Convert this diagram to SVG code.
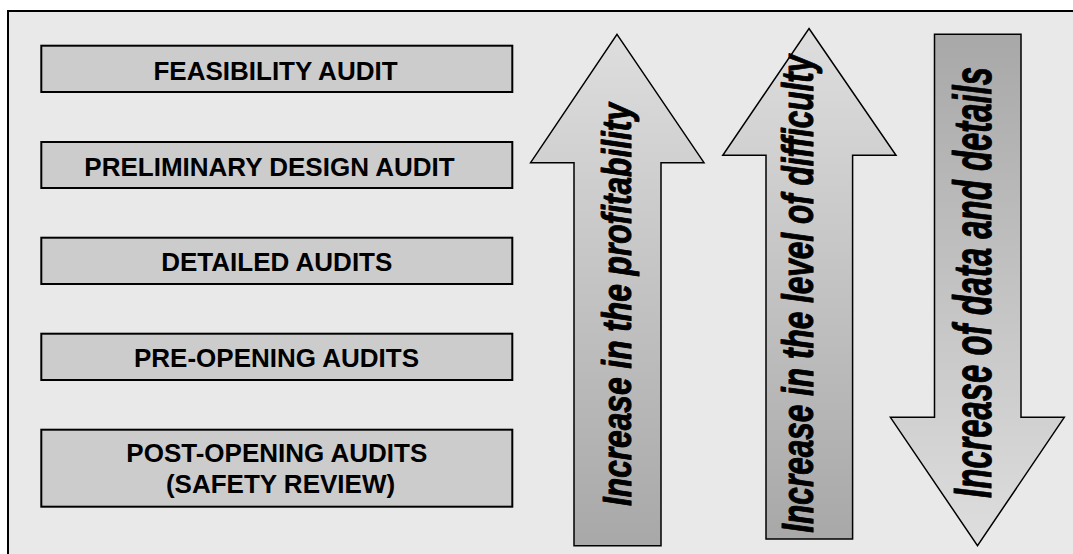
<svg xmlns="http://www.w3.org/2000/svg" width="1073" height="554" viewBox="0 0 1073 554">
  <style>
    .frame { fill: #e9e9e9; stroke: #000; stroke-width: 2; }
    .stage { fill: #cccccc; stroke: #000; stroke-width: 2; }
    .stage-label { font-family: "Liberation Sans", Arial, sans-serif; font-weight: bold; font-size: 26px; fill: #000; text-anchor: middle; }
    .arrow { stroke: #000; stroke-width: 1.5; stroke-linejoin: miter; }
    .arrow-label { font-family: "Liberation Sans", Arial, sans-serif; font-weight: bold; font-style: italic; fill: #000; stroke: #000; stroke-width: 1; stroke-linejoin: round; }
  </style>
  <defs>
    <linearGradient id="shadeUp" x1="0" y1="0" x2="0" y2="1">
      <stop offset="0" stop-color="#dedede"/>
      <stop offset="1" stop-color="#a8a8a8"/>
    </linearGradient>
    <linearGradient id="shadeDown" x1="0" y1="0" x2="0" y2="1">
      <stop offset="0" stop-color="#a8a8a8"/>
      <stop offset="1" stop-color="#dedede"/>
    </linearGradient>
  </defs>

  <rect width="1073" height="554" fill="#ffffff"/>
  <rect class="frame" x="8" y="11" width="1080" height="560"/>

  <!-- audit stages, top to bottom -->
  <g id="feasibility-audit">
    <rect class="stage" x="41.3" y="45.7" width="471" height="46.3"/>
    <text class="stage-label" x="275.5" y="80">FEASIBILITY AUDIT</text>
  </g>
  <g id="preliminary-design-audit">
    <rect class="stage" x="41.3" y="142" width="471" height="46"/>
    <text class="stage-label" x="269.5" y="176">PRELIMINARY DESIGN AUDIT</text>
  </g>
  <g id="detailed-audits">
    <rect class="stage" x="41.3" y="237.7" width="471" height="46.3"/>
    <text class="stage-label" x="276.8" y="270.7">DETAILED AUDITS</text>
  </g>
  <g id="pre-opening-audits">
    <rect class="stage" x="41.3" y="333.7" width="471" height="46.3"/>
    <text class="stage-label" x="276.5" y="366.7">PRE-OPENING AUDITS</text>
  </g>
  <g id="post-opening-audits">
    <rect class="stage" x="41.3" y="429.7" width="471" height="77"/>
    <text class="stage-label" x="276.8" y="461.7">POST-OPENING AUDITS</text>
    <text class="stage-label" x="280.5" y="493.3">(SAFETY REVIEW)</text>
  </g>

  <!-- trend arrows -->
  <g id="connectors">
    <g id="arrow-profitability">
      <polygon class="arrow" fill="url(#shadeUp)" points="617,34.3 704,162.7 661,162.7 661,545.7 574,545.7 574,162.7 530.6,162.7"/>
      <text class="arrow-label" font-size="40" transform="translate(631,506) rotate(-90)" textLength="403" lengthAdjust="spacingAndGlyphs">Increase in the profitability</text>
    </g>
    <g id="arrow-difficulty">
      <polygon class="arrow" fill="url(#shadeUp)" points="809,28.5 896,155.3 852.6,155.3 852.6,539 766,539 766,155.3 722.8,155.3"/>
      <text class="arrow-label" font-size="44" transform="translate(813,532.7) rotate(-90)" textLength="478" lengthAdjust="spacingAndGlyphs">Increase in the level of difficulty</text>
    </g>
    <g id="arrow-data">
      <polygon class="arrow" fill="url(#shadeDown)" points="934.5,34.3 1021,34.3 1021,417.3 1064.3,417.3 977.5,545.7 890.4,417.3 934.5,417.3"/>
      <text class="arrow-label" font-size="53" stroke-width="1.3" transform="translate(991,498) rotate(-90)" textLength="431" lengthAdjust="spacingAndGlyphs">Increase of data and details</text>
    </g>
  </g>
</svg>
